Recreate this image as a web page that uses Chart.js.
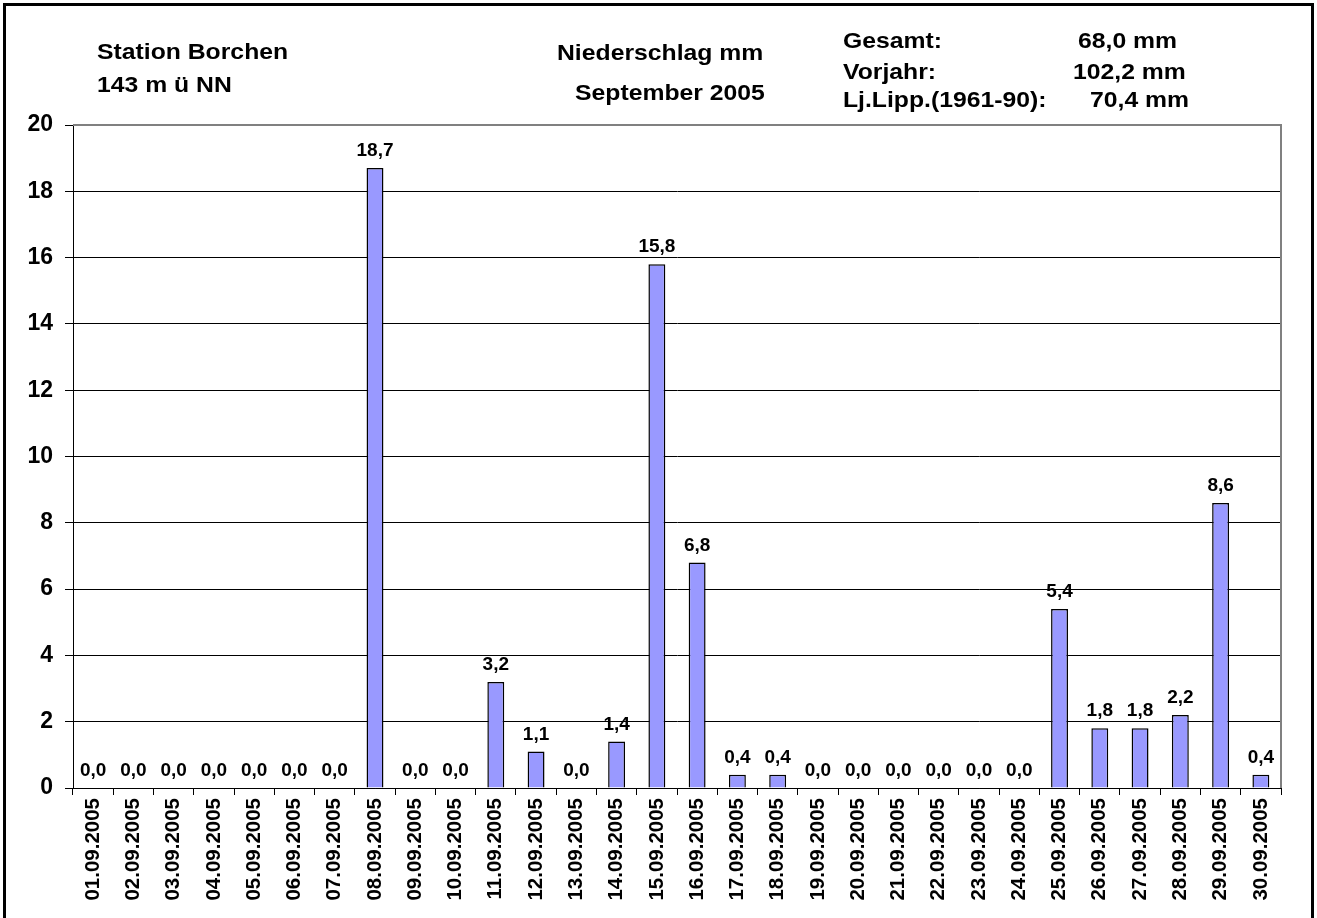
<!DOCTYPE html>
<html>
<head>
<meta charset="utf-8">
<title>Niederschlag September 2005</title>
<script src="https://cdn.jsdelivr.net/npm/chart.js@4/dist/chart.umd.min.js"></script>
<style>
  html, body { margin:0; padding:0; background:#fff; }
  canvas { display:block; }
</style>
</head>
<body>
<canvas id="rain" width="1317" height="918"></canvas>
<script>
// Data (mm per day, Station Borchen, September 2005)
const days = ['01.09.2005','02.09.2005','03.09.2005','04.09.2005','05.09.2005','06.09.2005','07.09.2005','08.09.2005','09.09.2005','10.09.2005',
              '11.09.2005','12.09.2005','13.09.2005','14.09.2005','15.09.2005','16.09.2005','17.09.2005','18.09.2005','19.09.2005','20.09.2005',
              '21.09.2005','22.09.2005','23.09.2005','24.09.2005','25.09.2005','26.09.2005','27.09.2005','28.09.2005','29.09.2005','30.09.2005'];
const rain = [0,0,0,0,0,0,0,18.7,0,0,
              3.2,1.1,0,1.4,15.8,6.8,0.4,0.4,0,0,
              0,0,0,0,5.4,1.8,1.8,2.2,8.6,0.4];
const yTicks = [0,2,4,6,8,10,12,14,16,18,20];
const headLeft  = ['Station Borchen','143 m ü NN'];
const headMid   = ['Niederschlag mm','September 2005'];
const sumLabels = ['Gesamt:','Vorjahr:','Lj.Lipp.(1961-90):'];
const sumValues = ['68,0 mm','102,2 mm','70,4 mm'];

const FONT = '"Liberation Sans", Arial, sans-serif';
const fmt = v => v.toFixed(1).replace('.', ',');

// value labels above bars
const valueLabels = {
  id:'valueLabels',
  afterDatasetsDraw(chart){
    const {ctx} = chart;
    const meta = chart.getDatasetMeta(0);
    ctx.save();
    ctx.font = 'bold 19px ' + FONT;
    ctx.fillStyle = '#000';
    ctx.textAlign = 'center';
    ctx.textBaseline = 'alphabetic';
    meta.data.forEach((bar,i)=>{
      ctx.fillText(fmt(rain[i]), bar.x, bar.y - 12);
    });
    ctx.restore();
  }
};

// header texts, plot frame, outer border
const decor = {
  id:'decor',
  beforeDatasetsDraw(chart){
    const {ctx, chartArea:a} = chart;
    ctx.save();
    ctx.strokeStyle = '#808080';
    ctx.lineWidth = 2;
    ctx.beginPath();
    ctx.moveTo(a.left, a.top);
    ctx.lineTo(a.right, a.top);
    ctx.lineTo(a.right, a.bottom);
    ctx.stroke();
    ctx.restore();
  },
  afterDraw(chart){
    const {ctx} = chart;
    const txt = (s, x, y) => {
      ctx.save();
      ctx.translate(x, y);
      ctx.scale(1.1, 1);
      ctx.fillText(s, 0, 0);
      ctx.restore();
    };
    ctx.save();
    ctx.font = 'bold 22.5px ' + FONT;
    ctx.fillStyle = '#000';
    ctx.textAlign = 'left';
    ctx.textBaseline = 'alphabetic';
    txt(headLeft[0], 97, 59);
    txt(headLeft[1], 97, 92);
    txt(headMid[0], 557, 60);
    txt(headMid[1], 575, 100);
    const sy = [48, 79, 107], sx = [1078, 1073, 1090];
    sumLabels.forEach((s,i)=> txt(s, 843, sy[i]));
    sumValues.forEach((s,i)=> txt(s, sx[i], sy[i]));
    // outer frame
    ctx.strokeStyle = '#000';
    ctx.lineWidth = 3;
    ctx.strokeRect(4.5, 4.5, 1308, 940);
    ctx.restore();
  }
};

new Chart(document.getElementById('rain'), {
  type:'bar',
  data:{
    labels: days,
    datasets:[{
      data: rain,
      backgroundColor:'#9999FF',
      borderColor:'#000',
      borderWidth:1.5,
      barPercentage:0.42,
      categoryPercentage:1
    }]
  },
  options:{
    responsive:false,
    animation:false,
    events:[],
    layout:{ padding:{ top:125, right:36, left:0, bottom:0 } },
    plugins:{ legend:{display:false}, title:{display:false}, tooltip:{enabled:false} },
    scales:{
      x:{
        offset:true,
        grid:{ offset:true, drawOnChartArea:false, drawTicks:true, tickLength:7, tickColor:'#000', lineWidth:1 },
        border:{ display:true, color:'#000', width:1 },
        ticks:{ autoSkip:false, minRotation:90, maxRotation:90, padding:3, color:'#000',
                font:{ family:FONT, size:20.5, weight:'bold' } },
        afterFit(s){ s.height = 130; }
      },
      y:{
        min:0, max:20,
        afterBuildTicks(s){ s.ticks = yTicks.map(v=>({value:v})); },
        grid:{
          drawTicks:true, tickLength:8, tickColor:'#000', lineWidth:1,
          color: c => c.tick && c.tick.value === 20 ? '#808080' : '#000'
        },
        border:{ display:true, color:'#000', width:1 },
        ticks:{ padding:12, color:'#000', font:{ family:FONT, size:23, weight:'bold' } },
        afterFit(s){ s.width = 73; }
      }
    }
  },
  plugins:[decor, valueLabels]
});
</script>
</body>
</html>
